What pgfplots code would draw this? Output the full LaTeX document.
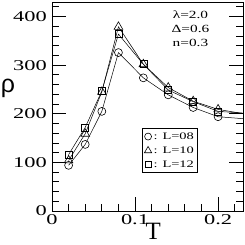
\documentclass[border=0pt]{standalone}
\usepackage{fontspec}
\setmainfont{Liberation Serif}
\newfontfamily\sansgreek{Liberation Sans}
\usepackage{graphicx}
\usepackage{pgfplots}
\pgfplotsset{compat=1.18}
\begin{document}
\begin{tikzpicture}
\begin{axis}[
  at={(0,0)}, anchor=south west,
  scale only axis, width=191bp, height=208bp,
  xmin=0, xmax=0.23, ymin=0, ymax=428,
  xtick={0,0.1,0.2}, xticklabels={0,0.1,0.2},
  minor xtick={0.02,0.04,0.06,0.08,0.12,0.14,0.16,0.18,0.22},
  ytick={0,100,200,300,400},
  minor ytick={20,40,60,80,120,140,160,180,220,240,260,280,320,340,360,380,420},
  xtick pos=bottom, ytick pos=both,
  tick align=inside,
  major tick length=14bp, minor tick length=7bp,
  every tick/.style={black, line width=0.9pt},
  /pgf/number format/assume math mode=true,
  tick label style={font=\fontsize{15}{15}\selectfont, xscale=1.5},
  axis line style={line width=1pt},
  ylabel={\sansgreek ρ}, xlabel={T},
  ylabel style={rotate=-90, at={(axis description cs:-0.23,0.59)}, anchor=center, font=\fontsize{25}{25}\selectfont},
  xlabel style={at={(axis description cs:0.53,-0.1)}, anchor=center, font=\fontsize{25}{25}\selectfont},
  legend style={at={(rel axis cs:0.471,0.399)}, anchor=north west, draw=black, line width=1pt,
    font=\fontsize{10}{10}\selectfont, row sep=2pt, inner sep=2pt},
  legend cell align=left,
]
\addplot[black, line width=0.5pt, mark=o, mark size=4pt, mark indices={1,...,8}, mark options={solid, line width=0.6pt}, forget plot]
  coordinates {(0.02,94)(0.04,137)(0.06,205)(0.08,326)(0.11,274)(0.14,239)(0.17,213)(0.20,194)(0.26,186)};
\addplot[black, line width=0.5pt, mark=triangle, mark size=5pt, mark indices={1,...,8}, mark options={solid, line width=0.6pt}, forget plot]
  coordinates {(0.02,104)(0.04,159)(0.06,245)(0.08,379)(0.11,302)(0.14,254)(0.17,226)(0.20,209)(0.26,192)};
\addplot[black, line width=0.5pt, mark=square, mark size=3.5pt, mark indices={1,...,8}, mark options={solid, line width=0.6pt}, forget plot]
  coordinates {(0.02,116)(0.04,172)(0.06,247)(0.08,364)(0.11,302)(0.14,249)(0.17,225)(0.20,205)(0.26,198)};
\addlegendimage{only marks, black, mark=o, mark size=3.5pt, mark options={line width=0.6pt}}
\addlegendentry{\scalebox{1.45}[1]{: L=08}}
\addlegendimage{only marks, black, mark=triangle, mark size=4.2pt, mark options={line width=0.6pt}}
\addlegendentry{\scalebox{1.45}[1]{: L=10}}
\addlegendimage{only marks, black, mark=square, mark size=3pt, mark options={line width=0.6pt}}
\addlegendentry{\scalebox{1.45}[1]{: L=12}}
\node[align=center, font=\fontsize{11}{14}\selectfont, anchor=north, xscale=1.4] at (rel axis cs:0.725,0.98) {λ=2.0\\Δ=0.6\\n=0.3};
\end{axis}
\pgfresetboundingbox
\path (-52bp,-34bp) rectangle (193bp,211bp);
\end{tikzpicture}
\end{document}
